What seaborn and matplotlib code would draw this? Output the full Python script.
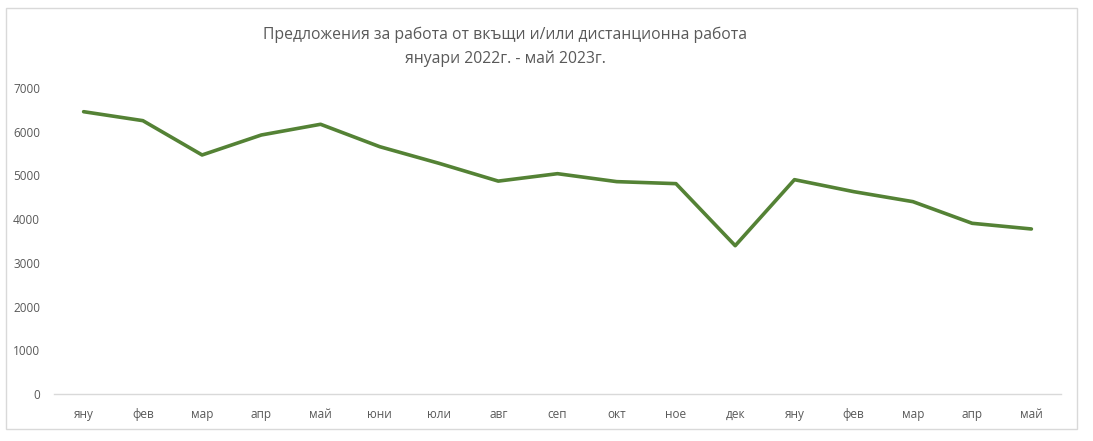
import pandas as pd
import matplotlib.pyplot as plt
import seaborn as sns
from matplotlib.patches import Rectangle

# -----------------------------
# Data
# -----------------------------

months = ["яну", "фев", "мар", "апр", "май", "юни", "юли", "авг", "сеп",
          "окт", "ное", "дек", "яну", "фев", "мар", "апр", "май"]
offers = [6458, 6253, 5468, 5925, 6170, 5657, 5277, 4870, 5040,
          4858, 4812, 3393, 4903, 4629, 4400, 3905, 3775]

title = "Предложения за работа от вкъщи и/или дистанционна работа\nянуари 2022г. - май 2023г."

df = pd.DataFrame({"idx": range(len(months)), "month": months, "offers": offers})

sns.set_style("white")
plt.rcParams["font.family"] = ["Open Sans", "DejaVu Sans"]

text_color = "#595959"
grid_color = "#d9d9d9"

# -----------------------------
# Line chart
# -----------------------------

fig = plt.figure(figsize=(10.93, 4.41), dpi=100)
ax = fig.add_axes([54 / 1093, 47 / 441, (1061 - 54) / 1093, (394 - 88) / 441])

sns.lineplot(
    data=df,
    x="idx",
    y="offers",
    color="#548235",
    linewidth=2.6,
    ax=ax
)

ax.set_xlim(-0.5, len(months) - 0.5)
ax.set_ylim(0, 7000)
ax.set_yticks(range(0, 7001, 1000))
ax.set_xticks(df["idx"])
ax.set_xticklabels(months)
ax.set_xlabel("")
ax.set_ylabel("")

for side in ["top", "right", "left"]:
    ax.spines[side].set_visible(False)
ax.spines["bottom"].set_color(grid_color)
ax.spines["bottom"].set_linewidth(1)

ax.tick_params(axis="both", length=0, labelsize=8.5, colors=text_color)
ax.tick_params(axis="x", pad=10)
ax.tick_params(axis="y", pad=10)

fig.text(0.462, 0.94, title, ha="center", va="top", fontsize=11.3,
         color=text_color, linespacing=1.6)

fig.patches.append(Rectangle((6 / 1093, 12 / 441), 1071 / 1093, 421 / 441,
                             transform=fig.transFigure, fill=False,
                             edgecolor=grid_color, linewidth=1))

plt.savefig("out.png", dpi=100)
plt.close()

print("Saved out.png")
